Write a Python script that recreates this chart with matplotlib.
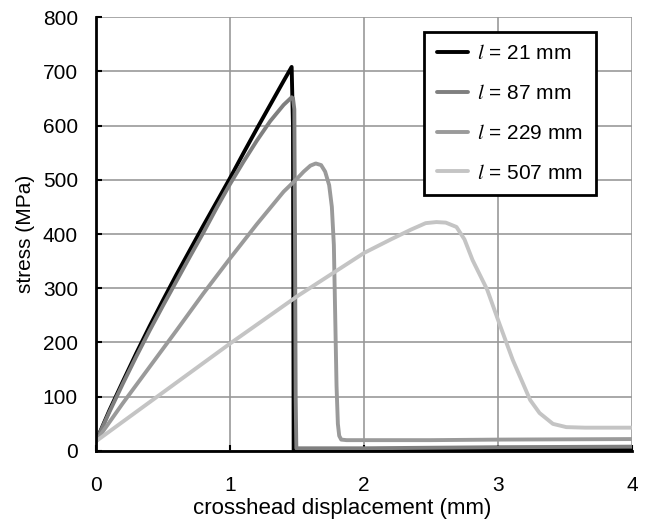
import matplotlib
matplotlib.use("Agg")
import matplotlib.pyplot as plt

plt.rcParams['font.family'] = ['Liberation Sans', 'DejaVu Sans']
plt.rcParams['mathtext.fontset'] = 'stix'

# values: displacement (mm), stress (MPa)
x_21 = [0, 0.1, 0.2, 0.3, 0.4, 0.5, 0.6, 0.7, 0.8, 0.9, 1.0, 1.1, 1.2, 1.3, 1.4, 1.46,
        1.47, 1.475, 2.0, 3.0, 4.0]
y_21 = [18, 75, 128, 180, 230, 278, 325, 370, 415, 459, 503, 549, 594, 638, 682, 708,
        600, 2, 2, 3, 3]

x_87 = [0, 0.1, 0.2, 0.3, 0.4, 0.5, 0.6, 0.7, 0.8, 0.9, 1.0, 1.1, 1.2, 1.3, 1.4, 1.46,
        1.47, 1.48, 1.485, 1.49, 1.495, 2.0, 3.0, 4.0]
y_87 = [18, 72, 124, 174, 222, 268, 313, 358, 402, 448, 492, 533, 572, 608, 638, 652,
        650, 630, 400, 100, 5, 5, 7, 8]

x_229 = [0, 0.2, 0.4, 0.6, 0.8, 1.0, 1.2, 1.4, 1.5, 1.55, 1.6, 1.64, 1.68, 1.71, 1.74,
         1.76, 1.775, 1.785, 1.795, 1.805, 1.815, 1.83, 1.87, 2.5, 3.0, 4.0]
y_229 = [18, 88, 155, 222, 290, 355, 418, 478, 502, 515, 526, 530, 527, 515, 490,
         450, 380, 250, 120, 50, 28, 21, 20, 20, 21, 22]

x_507 = [0, 0.5, 1.0, 1.5, 2.0, 2.2, 2.35, 2.46, 2.54, 2.61, 2.69, 2.75, 2.81, 2.92,
         3.01, 3.11, 3.24, 3.31, 3.41, 3.51, 3.65, 4.0]
y_507 = [18, 108, 198, 285, 365, 390, 408, 420, 422, 421, 413, 390, 352, 297,
         235, 168, 94, 70, 50, 44, 43, 43]

labels = ['$l$ = 21 mm', '$l$ = 87 mm', '$l$ = 229 mm', '$l$ = 507 mm']
colors = ['#000000', '#7f7f7f', '#9a9a9a', '#c4c4c4']

fig = plt.figure(figsize=(6.47, 5.2), dpi=100)
ax = fig.add_axes([0.1484, 0.1327, 0.8284, 0.8346])

series = [(x_21, y_21), (x_87, y_87), (x_229, y_229), (x_507, y_507)]
for (xs, ys), lab, col in zip(series, labels, colors):
    ax.plot(xs, ys, color=col, lw=2.8, label=lab,
            solid_joinstyle='round', solid_capstyle='round')

ax.set_xlim(0, 4)
ax.set_ylim(0, 800)
ax.set_xticks([0, 1, 2, 3, 4])
ax.set_yticks(range(0, 801, 100))
ax.grid(True, color='#999999', lw=1.2)
ax.set_axisbelow(True)

for side in ['top', 'right']:
    ax.spines[side].set_visible(False)
for side in ['left', 'bottom']:
    ax.spines[side].set_linewidth(2)
    ax.spines[side].set_color('black')

ax.tick_params(direction='in', length=4, width=1.5, labelsize=15)
ax.tick_params(axis='y', pad=13)
ax.tick_params(axis='x', pad=18)

ax.set_xlabel('crosshead displacement (mm)', fontsize=16)
ax.xaxis.set_label_coords(0.459, -0.108)
ax.set_ylabel('stress (MPa)', fontsize=15, labelpad=6)

leg = ax.legend(loc='upper right', bbox_to_anchor=(0.932, 0.966), fontsize=15,
                frameon=True, fancybox=False, edgecolor='black', framealpha=1,
                handlelength=1.5, handletextpad=0.45, labelspacing=1.0,
                borderpad=0.6, borderaxespad=0)
leg.get_frame().set_linewidth(2)

fig.savefig('out.png', dpi=100)
